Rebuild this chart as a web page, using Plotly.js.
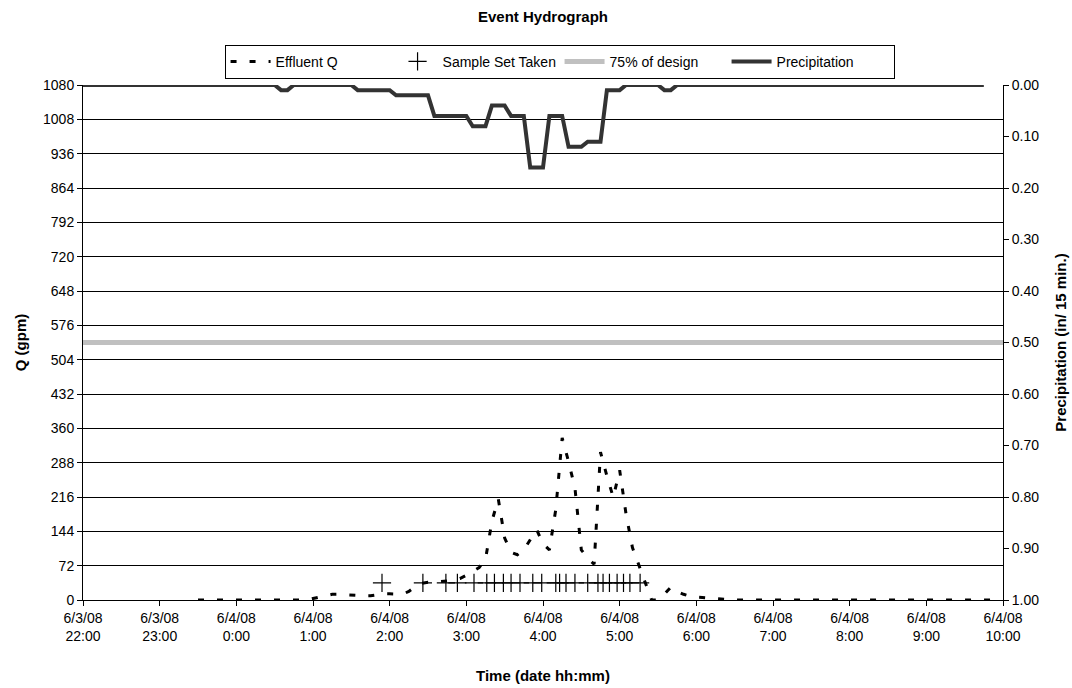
<!DOCTYPE html>
<html>
<head>
<meta charset="utf-8">
<script src="https://cdn.plot.ly/plotly-3.0.1.min.js"></script>
<style>html,body{margin:0;padding:0;background:#fff;}#chart{width:1072px;height:688px;}</style>
</head>
<body>
<div id="chart"></div>
<script>
// Effluent Q (gpm)
var effluentTimes = ["23:30","0:55","1:00","1:05","1:10","1:15","1:20","1:25","1:30","1:35","1:40","1:45","1:50","1:55","2:00","2:05","2:10","2:15","2:20","2:25","2:30","2:35","2:40","2:45","2:50","2:55","3:00","3:05","3:10","3:15","3:20","3:25","3:30","3:35","3:40","3:45","3:50","3:55","4:00","4:05","4:10","4:15","4:20","4:25","4:30","4:35","4:40","4:45","4:50","4:55","5:00","5:05","5:10","5:15","5:20","5:25","5:30","5:35","5:40","5:45","5:50","5:55","6:00","6:05","6:10","6:15","6:20","6:25","6:30","9:55"];
var effluentQ = [0,0,3,6,10,12,12,11,11,10,9,9,11,13,13,12,12,18,28,35,37,37,38,40,42,45,52,60,68,85,165,212,130,100,95,105,128,148,118,105,190,340,290,235,105,88,75,310,260,215,272,180,110,72,38,0,0,12,27,18,12,8,6,5,4,3,2,1,0,0];

// Sample sets taken (plotted at fixed Q level)
var sampleTimes = ["1:54","2:26","2:44","2:53","3:06","3:16","3:22","3:29","3:35","3:42","3:52","3:59","4:10","4:13","4:18","4:25","4:35","4:43","4:47","4:52","4:58","5:03","5:08","5:16"];
var sampleLevel = 36;

// 75% of design flow
var designTimes = ["22:00","10:00"];
var design75 = [540, 540];

// Precipitation (in / 15 min)
var precipTimes = ["22:00","0:30","0:35","0:40","0:45","1:30","1:35","2:00","2:05","2:30","2:35","3:00","3:05","3:15","3:20","3:30","3:35","3:45","3:50","4:00","4:05","4:15","4:20","4:30","4:35","4:45","4:50","5:00","5:05","5:30","5:35","5:40","5:45","9:45"];
var precip = [0,0,0.01,0.01,0,0,0.01,0.01,0.02,0.02,0.06,0.06,0.08,0.08,0.04,0.04,0.06,0.06,0.16,0.16,0.06,0.06,0.12,0.12,0.11,0.11,0.01,0.01,0,0,0.01,0.01,0,0];

// convert "hh:mm" to full timestamps (hours >= 22 on 6/3/08, else 6/4/08)
function toDate(t) {
  var p = t.split(":");
  var h = parseInt(p[0], 10);
  var day = h >= 22 ? "2008-06-03" : "2008-06-04";
  return day + " " + (h < 10 ? "0" + h : "" + h) + ":" + p[1];
}
function toDates(arr) { return arr.map(toDate); }

var FONT = "Liberation Sans, Arial, sans-serif";
var TICK = {family: FONT, size: 14, color: "#000"};
var TTL = {family: FONT, size: 15, color: "#000"};

var traces = [
  {
    name: "Effluent Q", x: toDates(effluentTimes), y: effluentQ, type: "scatter", mode: "lines",
    line: {color: "#000", width: 3, dash: "6px,13px"}, yaxis: "y"
  },
  {
    name: "Sample Set Taken", x: toDates(sampleTimes), y: sampleTimes.map(function(){return sampleLevel;}),
    type: "scatter", mode: "markers",
    marker: {symbol: "cross-thin-open", size: 13, color: "#000", line: {color: "#000", width: 1.2}}, yaxis: "y"
  },
  {
    name: "75% of design", x: toDates(designTimes), y: design75, type: "scatter", mode: "lines",
    line: {color: "#c0c0c0", width: 5}, yaxis: "y"
  },
  {
    name: "Precipitation", x: toDates(precipTimes), y: precip, type: "scatter", mode: "lines",
    line: {color: "#333333", width: 4}, yaxis: "y2"
  }
];

var layout = {
  width: 1072, height: 688,
  margin: {l: 83, r: 69, t: 85, b: 88},
  paper_bgcolor: "#fff", plot_bgcolor: "#fff",
  font: {family: FONT, size: 14, color: "#000"},
  title: {text: "<b>Event Hydrograph</b>", font: TTL, x: 0.5, xref: "paper", y: 0.984, yref: "container"},
  showlegend: true,
  legend: {
    orientation: "h", x: 0.518, xanchor: "center", y: 1.078, yanchor: "top",
    bordercolor: "#000", borderwidth: 1, bgcolor: "#fff",
    font: TICK, tracegroupgap: 0,
    traceorder: "normal", itemwidth: 40, entrywidth: 112
  },
  xaxis: {
    type: "date",
    range: ["2008-06-03 22:00", "2008-06-04 10:00"],
    tick0: "2008-06-03 22:00", dtick: 3600000,
    tickformat: "%-m/%-d/%y<br>%-H:%M",
    ticks: "outside", ticklen: 5, tickcolor: "#000",
    showline: true, linecolor: "#000", linewidth: 1,
    showgrid: false, zeroline: false,
    tickfont: TICK,
    title: {text: "<b>Time (date hh:mm)</b>", font: TTL, standoff: 27}
  },
  yaxis: {
    range: [0, 1080], dtick: 72, tick0: 0,
    ticks: "outside", ticklen: 5, tickcolor: "#000",
    showline: true, linecolor: "#000", linewidth: 1,
    showgrid: true, gridcolor: "#000", gridwidth: 1,
    zeroline: false,
    tickfont: TICK,
    title: {text: "<b>Q (gpm)</b>", font: TTL, standoff: 12}
  },
  yaxis2: {
    overlaying: "y", side: "right",
    range: [1, 0], dtick: 0.1, tick0: 0, tickformat: ".2f",
    ticks: "outside", ticklen: 5, tickcolor: "#000",
    showline: true, linecolor: "#000", linewidth: 1,
    showgrid: false, zeroline: false,
    tickfont: TICK,
    title: {text: "<b>Precipitation (in/ 15 min.)</b>", font: TTL, standoff: 17}
  }
};

Plotly.newPlot("chart", traces, layout, {displayModeBar: false, staticPlot: true});
</script>
</body>
</html>
